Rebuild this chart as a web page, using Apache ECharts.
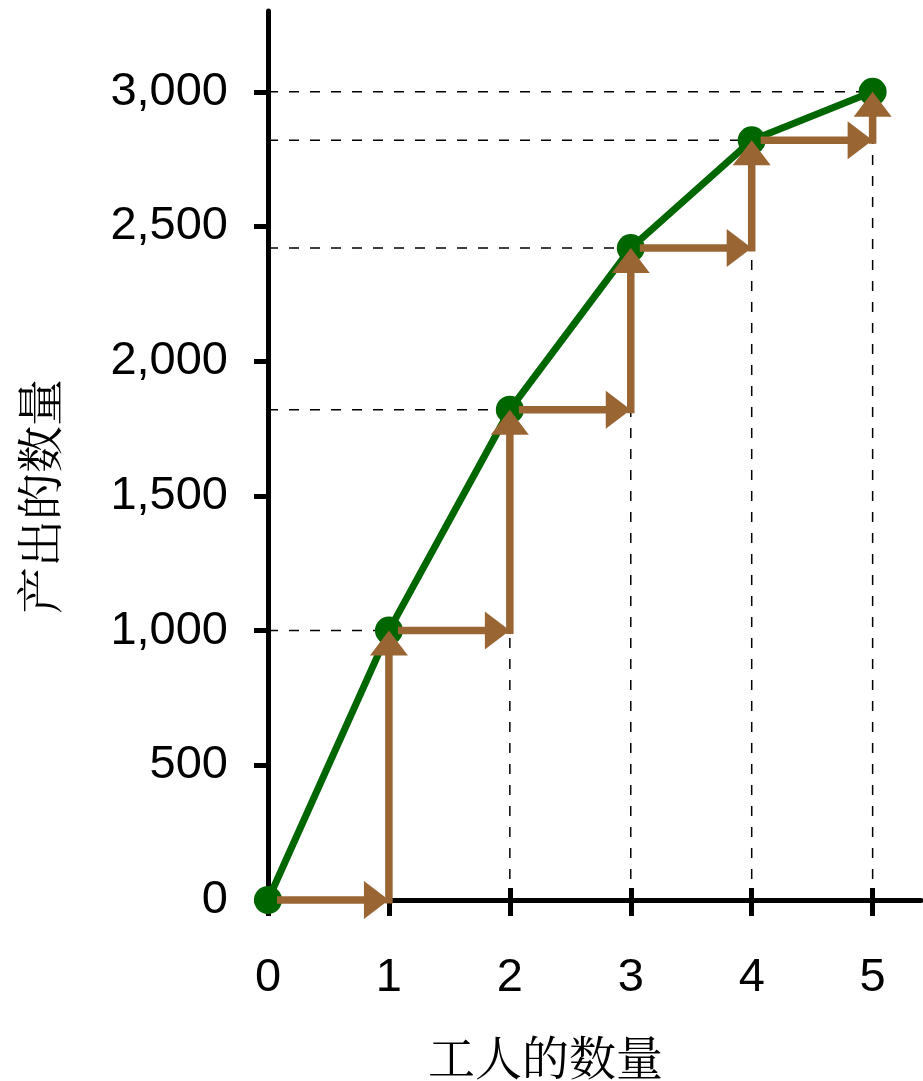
<!DOCTYPE html>
<html><head><meta charset="utf-8">
<script src="https://cdn.jsdelivr.net/npm/echarts@6/dist/echarts.min.js"></script>
<style>html,body{margin:0;padding:0;background:#fff}#c{width:923px;height:1081px}</style>
</head><body><div id="c"></div>
<script>
const workers = [0, 1, 2, 3, 4, 5];
const output = [0, 1000, 1820, 2420, 2820, 3000];
const yTicks = [0, 500, 1000, 1500, 2000, 2500, 3000];
const xTicks = [0, 1, 2, 3, 4, 5];
const xName = '工人的数量';
const yName = '产出的数量';

const GREEN = '#006600', BROWN = '#996633';
const points = workers.map((w, i) => [w, output[i]]);
const arrows = [];
for (let i = 0; i < workers.length - 1; i++) {
  arrows.push([workers[i], output[i], workers[i + 1], output[i], 1]);
  arrows.push([workers[i + 1], output[i], workers[i + 1], output[i + 1], 0]);
}
const guides = [];
for (let i = 1; i < workers.length; i++) {
  guides.push([0, output[i], workers[i], output[i]]);
  if (output[i - 1] > 0) guides.push([workers[i], 0, workers[i], output[i - 1]]);
}
function fmt(v) { return String(v).replace(/\B(?=(\d{3})+(?!\d))/g, ','); }
const numFont = 'Liberation Sans, Arial, sans-serif';
const cjkFont = 'Noto Serif CJK SC, Noto Sans CJK SC, sans-serif';

const chart = echarts.init(document.getElementById('c'));
chart.setOption({
  animation: false,
  backgroundColor: '#fff',
  grid: { left: 268, right: 2, top: 11, bottom: 181, containLabel: false, outerBoundsMode: 'none' },
  xAxis: [{
    type: 'value', min: 0, max: 5.4, position: 'bottom',
    axisLine: { show: true, onZero: false, lineStyle: { color: '#000', width: 5 } },
    axisTick: { show: true, customValues: xTicks, length: 16, lineStyle: { color: '#000', width: 5 } },
    axisLabel: { customValues: xTicks, fontSize: 47, color: '#000', margin: 55, fontFamily: numFont },
    splitLine: { show: false },
    name: xName, nameLocation: 'middle', nameGap: 134,
    nameTextStyle: { fontSize: 47, color: '#000', fontFamily: cjkFont, padding: [0, 98, 0, 0] }
  }, {
    type: 'value', min: 0, max: 5.4, position: 'bottom',
    axisLine: { show: false },
    axisTick: { show: true, inside: true, customValues: xTicks.slice(1), length: 12, lineStyle: { color: '#000', width: 5 } },
    axisLabel: { show: false },
    splitLine: { show: false }
  }],
  yAxis: {
    type: 'value', min: 0, max: 3300,
    axisLine: { show: true, onZero: false, lineStyle: { color: '#000', width: 5 } },
    axisTick: { show: true, customValues: yTicks, length: 14, lineStyle: { color: '#000', width: 5 } },
    axisLabel: { customValues: yTicks, formatter: v => fmt(v), fontSize: 47, color: '#000', margin: 40,
      fontFamily: numFont, padding: [10, 0, 0, 0] },
    splitLine: { show: false },
    name: yName, nameLocation: 'middle', nameGap: 205, nameRotate: 90,
    nameTextStyle: { fontSize: 47, color: '#000', fontFamily: cjkFont, padding: [0, 82, 0, 0] }
  },
  series: [{
    type: 'custom', z: 1, clip: false,
    encode: { x: [0, 2], y: [1, 3] },
    data: guides,
    renderItem(params, api) {
      const a = api.coord([api.value(0), api.value(1)]);
      const b = api.coord([api.value(2), api.value(3)]);
      return { type: 'line', shape: { x1: a[0], y1: a[1], x2: b[0], y2: b[1] },
        style: { stroke: '#000', lineWidth: 1.5, lineDash: [10, 11] } };
    }
  }, {
    type: 'line', z: 3, clip: false,
    data: points,
    symbol: 'circle', symbolSize: 28,
    lineStyle: { color: GREEN, width: 7 },
    itemStyle: { color: GREEN }
  }, {
    type: 'custom', z: 4, clip: false,
    encode: { x: [0, 2], y: [1, 3] },
    data: arrows,
    renderItem(params, api) {
      const a = api.coord([api.value(0), api.value(1)]);
      const b = api.coord([api.value(2), api.value(3)]);
      const dx = b[0] - a[0], dy = b[1] - a[1], L = Math.hypot(dx, dy);
      const ux = dx / L, uy = dy / L;
      const off = api.value(4) ? 9 : -3.5;
      const sx = a[0] + ux * off, sy = a[1] + uy * off;
      const hl = 25, hw = 19;
      const bx = b[0] - ux * hl, by = b[1] - uy * hl;
      return { type: 'group', children: [
        { type: 'line', shape: { x1: sx, y1: sy, x2: bx + ux * 2, y2: by + uy * 2 },
          style: { stroke: BROWN, lineWidth: 7.5 } },
        { type: 'polygon', shape: { points: [[b[0], b[1]], [bx - uy * hw, by + ux * hw], [bx + uy * hw, by - ux * hw]] },
          style: { fill: BROWN } }
      ] };
    }
  }]
});
</script>
</body></html>
